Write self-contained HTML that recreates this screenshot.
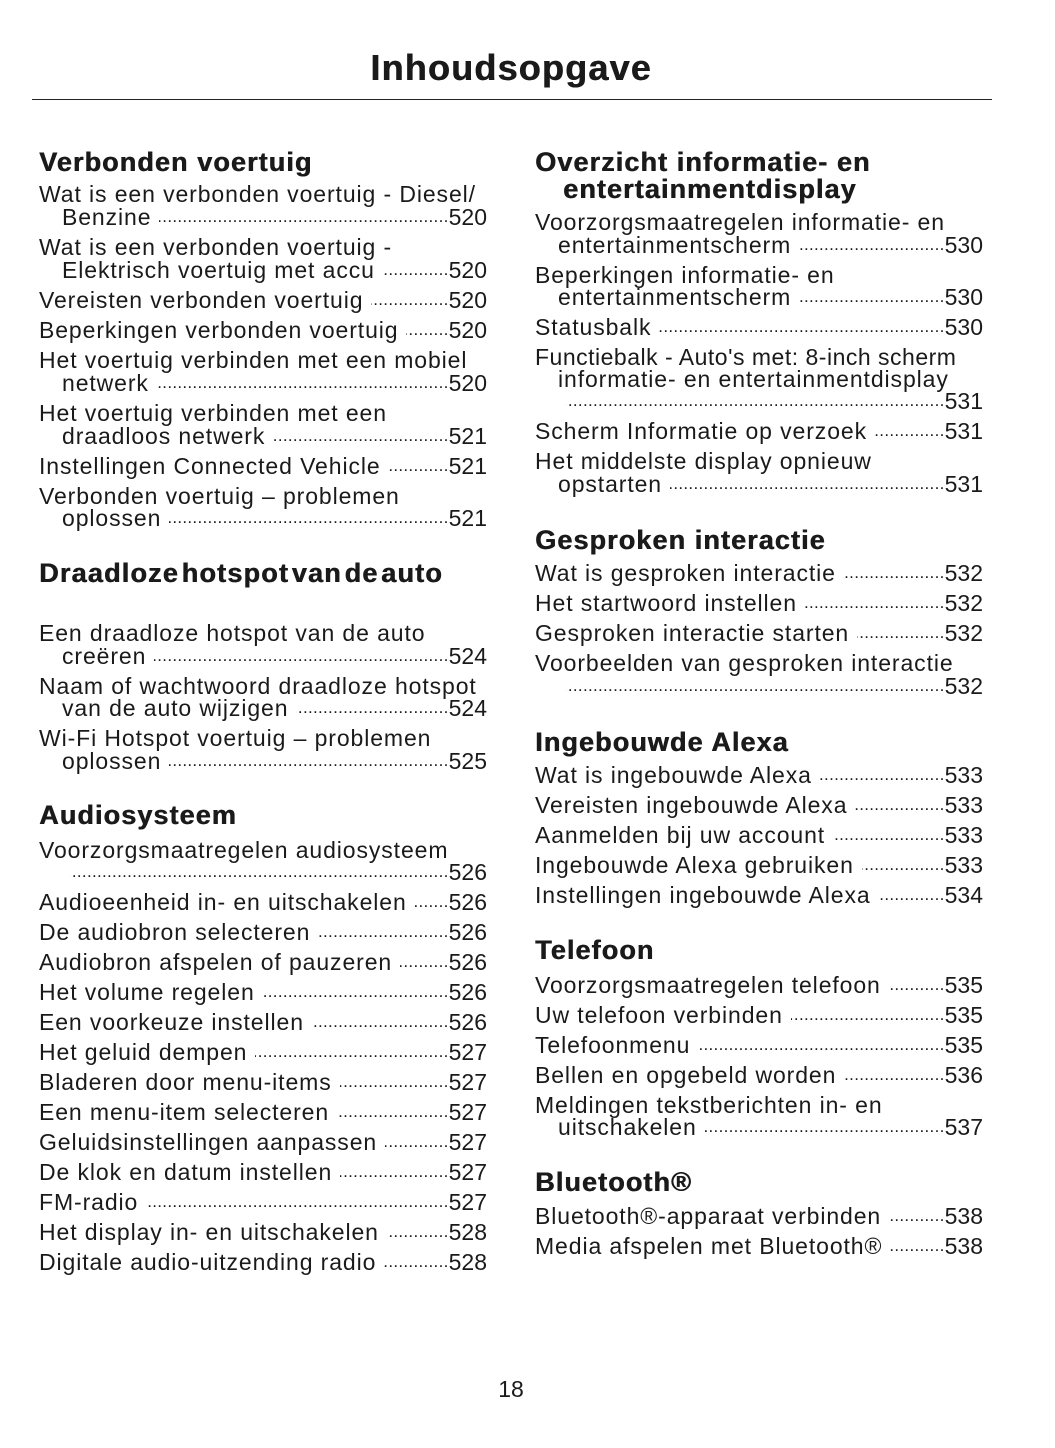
<!DOCTYPE html>
<html><head><meta charset="utf-8"><style>
body{margin:0;width:1055px;height:1448px;background:#fff;position:relative;font-family:"Liberation Sans",sans-serif;color:#1a1a1a;overflow:hidden}
.t{position:absolute;left:0;width:1022px;text-align:center;top:46px;font-size:36px;font-weight:bold;line-height:44px;letter-spacing:1.2px;text-shadow:0.6px 0 0 #1a1a1a}
.hr{position:absolute;left:32px;top:99px;width:960px;height:1px;background:#222}
.x{position:absolute;height:26px;line-height:26px;font-size:23px;letter-spacing:0.9px;white-space:nowrap;display:flex}
.L{left:39px;width:448px}.R{left:535px;width:448px}
.i{padding-left:23px;box-sizing:border-box}
.x .d{flex:1;overflow:hidden;direction:rtl;font-size:17px;letter-spacing:0.3px;margin-left:8px;box-sizing:border-box}
.x span:last-child{letter-spacing:0}
.h{position:absolute;font-size:27px;font-weight:bold;line-height:30px;white-space:nowrap;letter-spacing:1.1px;text-shadow:0.6px 0 0 #1a1a1a}
.pn{position:absolute;left:0;width:1022px;text-align:center;top:1376px;font-size:23px}
</style></head><body>
<div class="t">Inhoudsopgave</div><div class="hr"></div>

<div class="h" style="left:39px;top:147px">Verbonden voertuig</div>
<div class="x L" style="top:181px">Wat is een verbonden voertuig - Diesel/</div>
<div class="x L i" style="top:204px"><span>Benzine</span><span class="d">................................................................................................</span><span>520</span></div>
<div class="x L" style="top:234px">Wat is een verbonden voertuig -</div>
<div class="x L i" style="top:257px"><span>Elektrisch voertuig met accu</span><span class="d">................................................................................................</span><span>520</span></div>
<div class="x L" style="top:287px"><span>Vereisten verbonden voertuig</span><span class="d">................................................................................................</span><span>520</span></div>
<div class="x L" style="top:317px"><span>Beperkingen verbonden voertuig</span><span class="d">................................................................................................</span><span>520</span></div>
<div class="x L" style="top:347px">Het voertuig verbinden met een mobiel</div>
<div class="x L i" style="top:370px"><span>netwerk</span><span class="d">................................................................................................</span><span>520</span></div>
<div class="x L" style="top:400px">Het voertuig verbinden met een</div>
<div class="x L i" style="top:423px"><span>draadloos netwerk</span><span class="d">................................................................................................</span><span>521</span></div>
<div class="x L" style="top:453px"><span>Instellingen Connected Vehicle</span><span class="d">................................................................................................</span><span>521</span></div>
<div class="x L" style="top:483px">Verbonden voertuig – problemen</div>
<div class="x L i" style="top:505px"><span>oplossen</span><span class="d">................................................................................................</span><span>521</span></div>

<div class="h" style="left:39px;top:558px;letter-spacing:1.2px;word-spacing:-6px">Draadloze hotspot van de auto</div>
<div class="x L" style="top:620px">Een draadloze hotspot van de auto</div>
<div class="x L i" style="top:643px"><span>creëren</span><span class="d">................................................................................................</span><span>524</span></div>
<div class="x L" style="top:673px">Naam of wachtwoord draadloze hotspot</div>
<div class="x L i" style="top:695px"><span>van de auto wijzigen</span><span class="d">................................................................................................</span><span>524</span></div>
<div class="x L" style="top:725px">Wi-Fi Hotspot voertuig – problemen</div>
<div class="x L i" style="top:748px"><span>oplossen</span><span class="d">................................................................................................</span><span>525</span></div>

<div class="h" style="left:39px;top:800px">Audiosysteem</div>
<div class="x L" style="top:837px">Voorzorgsmaatregelen audiosysteem</div>
<div class="x L i" style="top:859px"><span></span><span class="d">................................................................................................</span><span>526</span></div>
<div class="x L" style="top:889px"><span>Audioeenheid in- en uitschakelen</span><span class="d">................................................................................................</span><span>526</span></div>
<div class="x L" style="top:919px"><span>De audiobron selecteren</span><span class="d">................................................................................................</span><span>526</span></div>
<div class="x L" style="top:949px"><span>Audiobron afspelen of pauzeren</span><span class="d">................................................................................................</span><span>526</span></div>
<div class="x L" style="top:979px"><span>Het volume regelen</span><span class="d">................................................................................................</span><span>526</span></div>
<div class="x L" style="top:1009px"><span>Een voorkeuze instellen</span><span class="d">................................................................................................</span><span>526</span></div>
<div class="x L" style="top:1039px"><span>Het geluid dempen</span><span class="d">................................................................................................</span><span>527</span></div>
<div class="x L" style="top:1069px"><span>Bladeren door menu-items</span><span class="d">................................................................................................</span><span>527</span></div>
<div class="x L" style="top:1099px"><span>Een menu-item selecteren</span><span class="d">................................................................................................</span><span>527</span></div>
<div class="x L" style="top:1129px"><span>Geluidsinstellingen aanpassen</span><span class="d">................................................................................................</span><span>527</span></div>
<div class="x L" style="top:1159px"><span>De klok en datum instellen</span><span class="d">................................................................................................</span><span>527</span></div>
<div class="x L" style="top:1189px"><span>FM-radio</span><span class="d">................................................................................................</span><span>527</span></div>
<div class="x L" style="top:1219px"><span>Het display in- en uitschakelen</span><span class="d">................................................................................................</span><span>528</span></div>
<div class="x L" style="top:1249px"><span>Digitale audio-uitzending radio</span><span class="d">................................................................................................</span><span>528</span></div>

<div class="h" style="left:535px;top:147px">Overzicht informatie- en</div>
<div class="h" style="left:563px;top:174px">entertainmentdisplay</div>
<div class="x R" style="top:209px">Voorzorgsmaatregelen informatie- en</div>
<div class="x R i" style="top:232px"><span>entertainmentscherm</span><span class="d">................................................................................................</span><span>530</span></div>
<div class="x R" style="top:262px">Beperkingen informatie- en</div>
<div class="x R i" style="top:284px"><span>entertainmentscherm</span><span class="d">................................................................................................</span><span>530</span></div>
<div class="x R" style="top:314px"><span>Statusbalk</span><span class="d">................................................................................................</span><span>530</span></div>
<div class="x R" style="top:344px;letter-spacing:0.5px">Functiebalk - Auto's met: 8-inch scherm</div>
<div class="x R i" style="top:366px">informatie- en entertainmentdisplay</div>
<div class="x R i" style="top:388px"><span></span><span class="d">................................................................................................</span><span>531</span></div>
<div class="x R" style="top:418px"><span>Scherm Informatie op verzoek</span><span class="d">................................................................................................</span><span>531</span></div>
<div class="x R" style="top:448px">Het middelste display opnieuw</div>
<div class="x R i" style="top:471px"><span>opstarten</span><span class="d">................................................................................................</span><span>531</span></div>

<div class="h" style="left:535px;top:525px">Gesproken interactie</div>
<div class="x R" style="top:560px"><span>Wat is gesproken interactie</span><span class="d">................................................................................................</span><span>532</span></div>
<div class="x R" style="top:590px"><span>Het startwoord instellen</span><span class="d">................................................................................................</span><span>532</span></div>
<div class="x R" style="top:620px"><span>Gesproken interactie starten</span><span class="d">................................................................................................</span><span>532</span></div>
<div class="x R" style="top:650px">Voorbeelden van gesproken interactie</div>
<div class="x R i" style="top:673px"><span></span><span class="d">................................................................................................</span><span>532</span></div>

<div class="h" style="left:535px;top:727px">Ingebouwde Alexa</div>
<div class="x R" style="top:762px"><span>Wat is ingebouwde Alexa</span><span class="d">................................................................................................</span><span>533</span></div>
<div class="x R" style="top:792px"><span>Vereisten ingebouwde Alexa</span><span class="d">................................................................................................</span><span>533</span></div>
<div class="x R" style="top:822px"><span>Aanmelden bij uw account</span><span class="d">................................................................................................</span><span>533</span></div>
<div class="x R" style="top:852px"><span>Ingebouwde Alexa gebruiken</span><span class="d">................................................................................................</span><span>533</span></div>
<div class="x R" style="top:882px"><span>Instellingen ingebouwde Alexa</span><span class="d">................................................................................................</span><span>534</span></div>

<div class="h" style="left:535px;top:935px">Telefoon</div>
<div class="x R" style="top:972px"><span>Voorzorgsmaatregelen telefoon</span><span class="d">................................................................................................</span><span>535</span></div>
<div class="x R" style="top:1002px"><span>Uw telefoon verbinden</span><span class="d">................................................................................................</span><span>535</span></div>
<div class="x R" style="top:1032px"><span>Telefoonmenu</span><span class="d">................................................................................................</span><span>535</span></div>
<div class="x R" style="top:1062px"><span>Bellen en opgebeld worden</span><span class="d">................................................................................................</span><span>536</span></div>
<div class="x R" style="top:1092px">Meldingen tekstberichten in- en</div>
<div class="x R i" style="top:1114px"><span>uitschakelen</span><span class="d">................................................................................................</span><span>537</span></div>

<div class="h" style="left:535px;top:1167px">Bluetooth®</div>
<div class="x R" style="top:1203px"><span>Bluetooth®-apparaat verbinden</span><span class="d">................................................................................................</span><span>538</span></div>
<div class="x R" style="top:1233px"><span>Media afspelen met Bluetooth®</span><span class="d">................................................................................................</span><span>538</span></div>

<div class="pn">18</div>
</body></html>
